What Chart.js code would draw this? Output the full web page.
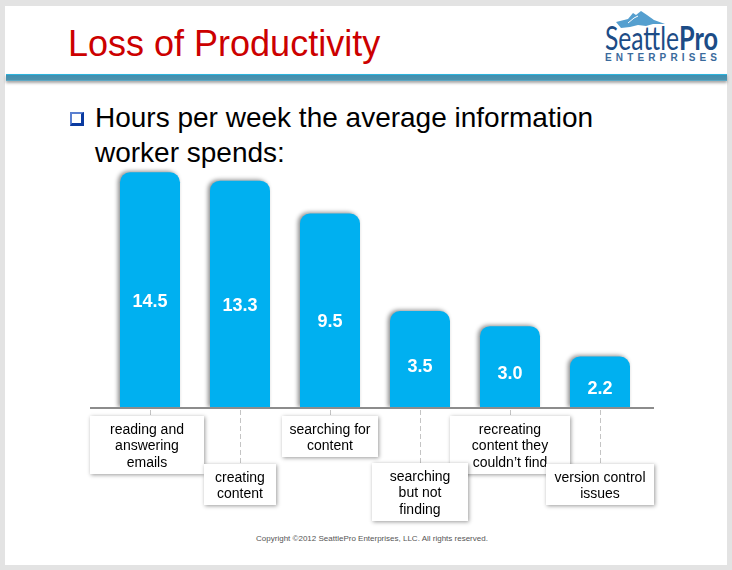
<!DOCTYPE html>
<html><head><meta charset="utf-8">
<script src="https://cdn.jsdelivr.net/npm/chart.js@4"></script>
<style>
html,body{margin:0;padding:0;width:732px;height:570px;overflow:hidden;background:#e3e3e3;font-family:"Liberation Sans",Arial,sans-serif}
#slide{position:absolute;left:5px;top:6px;width:722px;height:559px;background:#fff}
#band{position:absolute;left:6px;top:74px;width:721px;height:7px;box-sizing:border-box;background:linear-gradient(#3f8fb0,#4f93ad);border-top:1px solid #2fb4dc;border-bottom:1px solid #5fa8c4;box-shadow:0 2px 3px rgba(0,0,0,.35)}
#title{position:absolute;left:68px;top:22px;font-size:36px;line-height:44px;color:#cc0000;white-space:nowrap}
#bullet{position:absolute;left:70px;top:112px;width:14px;height:14px;box-sizing:border-box;border:2px solid #0a3aa0;border-right-width:3px;border-bottom-width:3px;background:#fff;border-top-color:#5a7fd0;border-left-color:#5a7fd0}
#sub{position:absolute;left:95px;top:101px;font-size:28px;line-height:34.5px;color:#000;white-space:nowrap}
#foot{position:absolute;left:0;width:744px;top:534px;text-align:center;font-size:8px;line-height:10px;color:#555}
#logo{position:absolute;left:600px;top:8px}
canvas{position:absolute;left:0;top:0}
</style></head><body>
<div id="slide"></div><div id="band"></div>
<div id="title">Loss of Productivity</div>
<div id="bullet"></div>
<div id="sub">Hours per week the average information<br>worker spends:</div>
<svg id="logo" width="125" height="58" viewBox="0 0 125 58">
<polygon fill="#559fcf" points="16,14 28,11 33,5 36,7 41,3 47,7 54,12 65,16 53,16 46,18 38,17 30,19 21,20"/>
<polyline fill="none" stroke="#fff" stroke-width="1" points="28,15 34,10 38,8"/>
<text x="5" y="42" font-family="Lato" font-size="33" fill="#1c4c86" textLength="74" lengthAdjust="spacingAndGlyphs">Seattle</text>
<text x="79" y="42" font-family="Lato" font-weight="bold" font-size="33" fill="#1c4c86" textLength="39" lengthAdjust="spacingAndGlyphs">Pro</text>
<text x="5" y="53" font-family="Liberation Sans" font-weight="bold" font-size="10" fill="#3a6a9c" textLength="112">ENTERPRISES</text>
</svg>
<div id="foot">Copyright ©2012 SeattlePro Enterprises, LLC. All rights reserved.</div>
<canvas id="c" width="732" height="570"></canvas>
<script>
// Chart data: the printed hours per week and their category labels.
const categories = [
  ["reading and","answering","emails"],
  ["creating","content"],
  ["searching for","content"],
  ["searching","but not","finding"],
  ["recreating","content they","couldn\u2019t find"],
  ["version control","issues"]
];
const hours = [14.5, 13.3, 9.5, 3.5, 3.0, 2.2];

// Caption box layout, relative to each category's tick (not data).
const boxLayout = [
  {dx:-60, top:416, w:114, h:58, order:0},
  {dx:-36, top:464, w:72,  h:41, order:1},
  {dx:-48, top:416, w:96,  h:41, order:2},
  {dx:-48, top:463, w:96,  h:58, order:4},
  {dx:-60, top:416, w:120, h:58, order:3},
  {dx:-54, top:464, w:108, h:41, order:5}
];

const slidePlugin = {
  id:'slide',
  beforeDatasetsDraw(chart){
    const c=chart.ctx; c.save();
    c.shadowColor='rgba(0,0,0,.45)'; c.shadowBlur=4; c.shadowOffsetX=-2; c.shadowOffsetY=-1;
  },
  afterDatasetsDraw(chart){
    const c=chart.ctx; c.restore();
    const x=chart.scales.x, y=chart.scales.y, base=y.bottom;
    // axis line
    c.save();
    c.strokeStyle='#8c8c8c'; c.lineWidth=2;
    c.beginPath(); c.moveTo(x.left-15,base); c.lineTo(x.right+9,base); c.stroke();
    // leader lines
    c.strokeStyle='#c4c4c4'; c.lineWidth=1; c.setLineDash([5,3]);
    boxLayout.forEach((b,i)=>{
      const px=Math.round(x.getPixelForValue(i))+.5;
      c.beginPath(); c.moveTo(px,base+2); c.lineTo(px,b.top); c.stroke();
    });
    c.setLineDash([]);
    // values in the bars
    c.fillStyle='#fff'; c.font='bold 18px "Liberation Sans"'; c.textAlign='center'; c.textBaseline='middle';
    hours.forEach((v,i)=>{
      const h=base-y.getPixelForValue(v);
      c.fillText(v.toFixed(1), x.getPixelForValue(i), base-(h*.47-5));
    });
    // caption boxes
    boxLayout.map((b,i)=>({b,i})).sort((p,q)=>p.b.order-q.b.order).forEach(({b,i})=>{
      const px=x.getPixelForValue(i), bx=px+b.dx;
      c.save();
      c.shadowColor='rgba(0,0,0,.4)'; c.shadowBlur=4; c.shadowOffsetX=1; c.shadowOffsetY=1;
      c.fillStyle='#fff'; c.fillRect(bx,b.top,b.w,b.h);
      c.restore();
      c.fillStyle='#000'; c.font='14px "Liberation Sans"'; c.textAlign='center'; c.textBaseline='middle';
      const lines=chart.data.labels[i], lh=16.5, cy=b.top+b.h/2+1.5-(lines.length-1)*lh/2;
      lines.forEach((t,k)=>c.fillText(t,bx+b.w/2,cy+k*lh));
    });
    c.restore();
  }
};

new Chart(document.getElementById('c'),{
  type:'bar',
  data:{labels:categories,datasets:[{
    data:hours, backgroundColor:'#00b0f0', borderWidth:0, borderSkipped:false,
    borderRadius:{topLeft:10,topRight:10,bottomLeft:0,bottomRight:0},
    barPercentage:60/90, categoryPercentage:1
  }]},
  options:{
    responsive:false, animation:false, devicePixelRatio:1,
    layout:{padding:{left:105,right:87,top:150,bottom:162}},
    plugins:{legend:{display:false},title:{display:false},tooltip:{enabled:false}},
    scales:{
      x:{display:false,type:'category'},
      // The reference's bar heights follow a compressed, roughly logarithmic scale.
      y:{display:false,type:'logarithmic',min:1.298,max:18.2}
    }
  },
  plugins:[slidePlugin]
});
</script>
</body></html>
